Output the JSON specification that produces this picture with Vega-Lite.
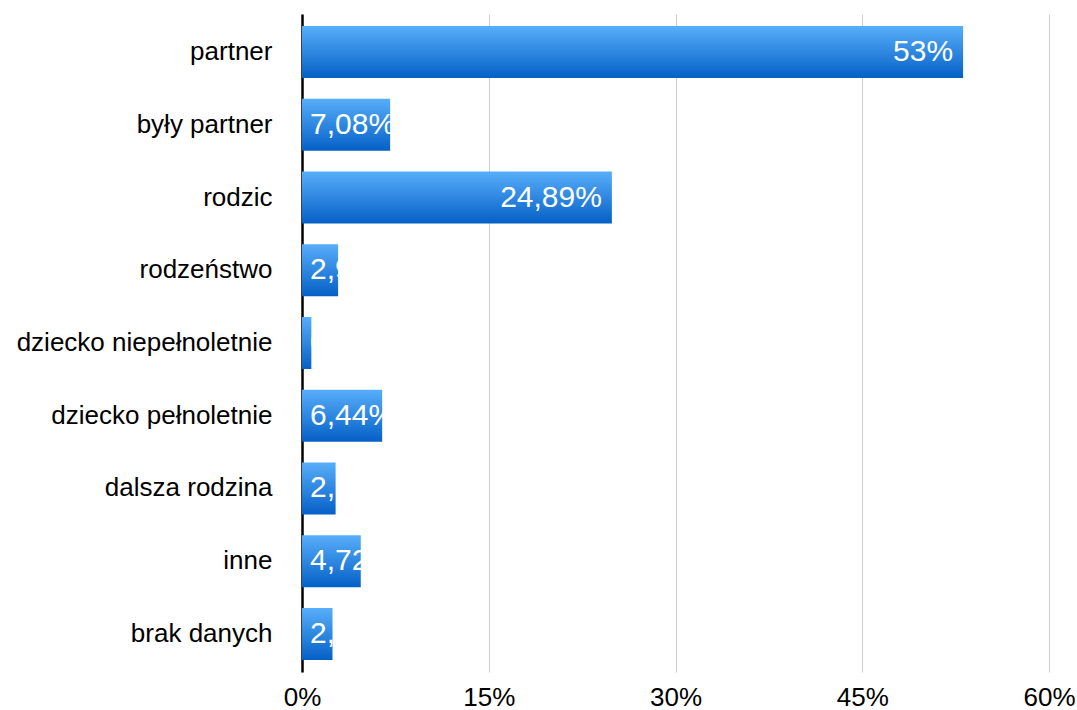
{
  "$schema": "https://vega.github.io/schema/vega-lite/v6.json",
  "width": 747,
  "height": 658,
  "autosize": {"type": "none"},
  "padding": {"left": 302, "top": 14, "right": 28, "bottom": 38},
  "background": "white",
  "config": {"view": {"stroke": null}, "font": "Liberation Sans"},
  "data": {
    "values": [
      {"category": "partner", "value": 53.1, "label": "53%"},
      {"category": "były partner", "value": 7.08, "label": "7,08%"},
      {"category": "rodzic", "value": 24.89, "label": "24,89%"},
      {"category": "rodzeństwo", "value": 2.9, "label": "2,90%"},
      {"category": "dziecko niepełnoletnie", "value": 0.75, "label": "0,75%"},
      {"category": "dziecko pełnoletnie", "value": 6.44, "label": "6,44%"},
      {"category": "dalsza rodzina", "value": 2.7, "label": "2,70%"},
      {"category": "inne", "value": 4.72, "label": "4,72%"},
      {"category": "brak danych", "value": 2.45, "label": "2,45%"}
    ]
  },
  "encoding": {
    "y": {
      "field": "category",
      "type": "nominal",
      "sort": null,
      "scale": {"paddingInner": 0.285, "paddingOuter": 0.165},
      "axis": {
        "title": null,
        "ticks": false,
        "labelFontSize": 26,
        "labelColor": "black",
        "labelPadding": 30,
        "labelLimit": 0,
        "domainColor": "black",
        "domainWidth": 2.5,
        "grid": false
      }
    },
    "x": {
      "field": "value",
      "type": "quantitative",
      "scale": {"domain": [0, 60], "nice": false},
      "axis": {
        "title": null,
        "values": [0, 15, 30, 45, 60],
        "labelExpr": "datum.value + '%'",
        "labelFontSize": 26,
        "labelColor": "black",
        "labelFlush": false,
        "labelOverlap": false,
        "ticks": false,
        "domain": false,
        "grid": true,
        "gridColor": "#cccccc",
        "labelPadding": 12
      }
    }
  },
  "layer": [
    {
      "mark": {
        "type": "bar",
        "color": {
          "gradient": "linear",
          "x1": 0, "y1": 0, "x2": 0, "y2": 1,
          "stops": [
            {"offset": 0, "color": "#58aefa"},
            {"offset": 1, "color": "#0560c6"}
          ]
        }
      }
    },
    {
      "transform": [{"filter": "datum.value > 20"}],
      "mark": {"type": "text", "align": "right", "dx": -10, "baseline": "middle", "color": "white", "fontSize": 30},
      "encoding": {"text": {"field": "label"}}
    },
    {
      "transform": [{"filter": "datum.value <= 20"}],
      "mark": {"type": "text", "align": "left", "dx": 8, "baseline": "middle", "color": "white", "fontSize": 30},
      "encoding": {"x": {"datum": 0}, "text": {"field": "label"}}
    }
  ]
}
